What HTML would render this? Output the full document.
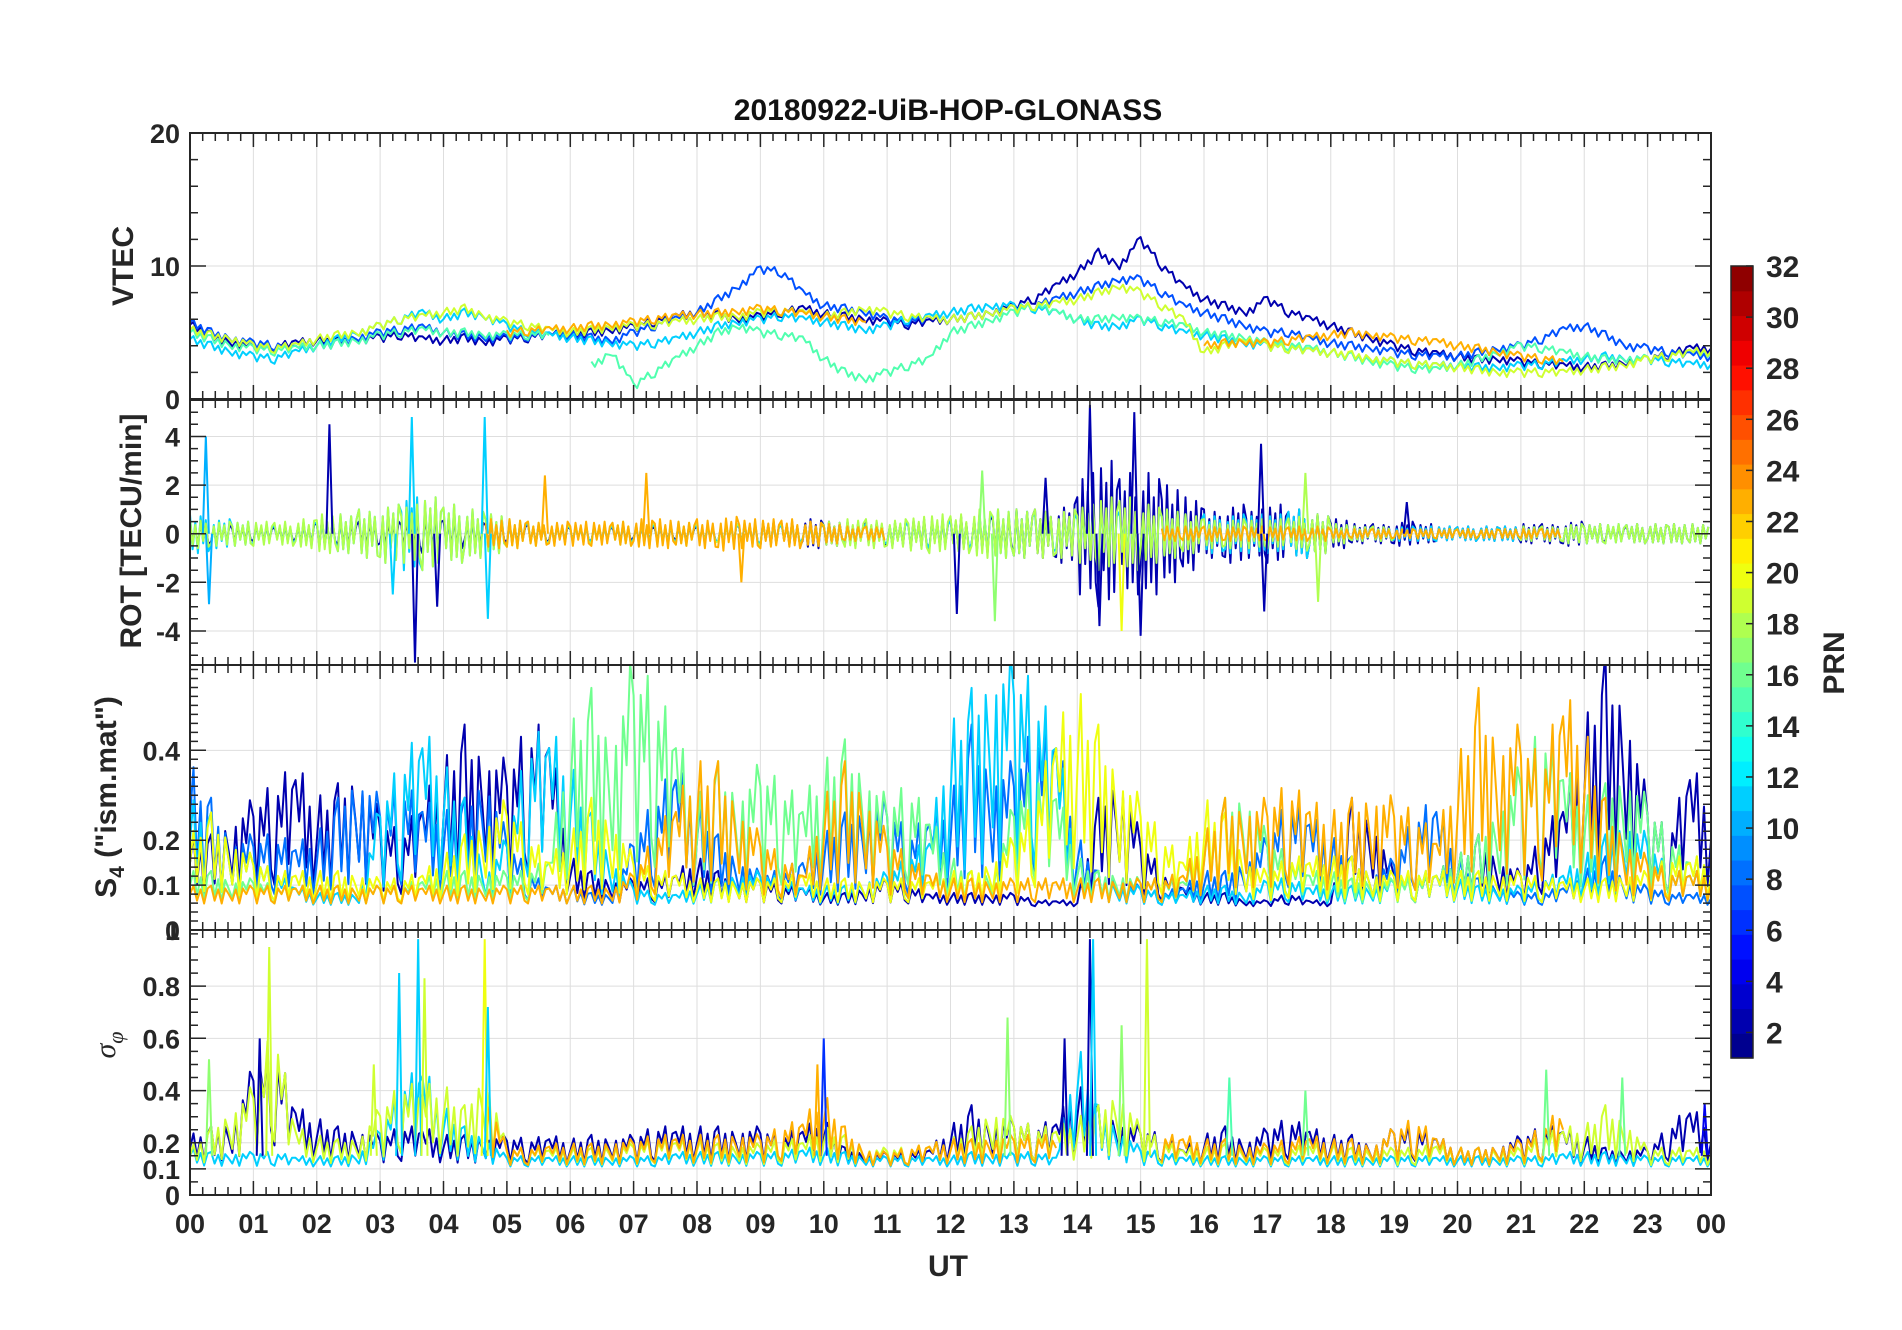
<!DOCTYPE html>
<html><head><meta charset="utf-8"><style>
html,body{margin:0;padding:0;background:#fff;}
svg{display:block;font-family:"Liberation Sans",sans-serif;}
</style></head><body>
<svg id="fig" width="1902" height="1330" viewBox="0 0 1902 1330">
<text x="948" y="120" text-anchor="middle" font-size="30" font-weight="bold" fill="#111">20180922-UiB-HOP-GLONASS</text>
<text x="948" y="1276" text-anchor="middle" font-size="30" font-weight="bold" fill="#262626">UT</text>
<text transform="translate(133,266) rotate(-90)" text-anchor="middle" font-size="30" font-weight="bold" fill="#262626">VTEC</text>
<text transform="translate(141,531) rotate(-90)" text-anchor="middle" font-size="30" font-weight="bold" fill="#262626">ROT [TECU/min]</text>
<text transform="translate(116,797) rotate(-90)" text-anchor="middle" font-size="30" font-weight="bold" fill="#262626">S<tspan font-size="21" dy="8">4</tspan><tspan dy="-8"> ("ism.mat")</tspan></text>
<text transform="translate(115,1045) rotate(-90)" text-anchor="middle" font-size="30" font-style="italic" font-family="Liberation Serif, serif" fill="#262626">σ<tspan font-size="22" dy="8">φ</tspan></text>
<text transform="translate(1844,663) rotate(-90)" text-anchor="middle" font-size="30" font-weight="bold" fill="#262626">PRN</text>
</svg>
<script>
const NS="http://www.w3.org/2000/svg";
const svg=document.getElementById('fig');
// ---- data ----
const hoursLabels=["00","01","02","03","04","05","06","07","08","09","10","11","12","13","14","15","16","17","18","19","20","21","22","23","00"];
const prnTicks=[2,4,6,8,10,12,14,16,18,20,22,24,26,28,30,32];
const vtecTicks=[0,10,20];
const rotTicks=[-4,-2,0,2,4];
const s4Ticks=[0.1,0.2,0.4];
const sigTicks=[0,0.1,0.2,0.4,0.6,0.8];
const vtecDarkBlue=[5.6,4.8,4.2,3.8,3.9,4.2,4.4,4.3,4.5,4.6,4.8,4.5,4.4,4.6,4.3,4.5,4.6,4.8,4.9,5.0,5.2,5.4,5.8,6.2,6.5,6.3,6.0,6.2,6.5,6.8,6.4,6.2,6.0,5.8,5.6,5.8,6.0,6.2,6.5,7.0,7.5,8.5,9.5,11,10,12,10,8.5,7.5,7,6.5,7.5,6.5,6,5.5,5,4.5,4,3.6,3.4,3.2,3,3,2.8,2.6,2.5,2.4,2.5,2.7,3,3.3,3.8,3.8];
const vtecBlue=[5.8,5.0,4.5,4.2,4.0,3.8,4,4.2,4.6,5,5.2,5.4,5,4.8,4.6,4.6,4.7,4.8,4.8,4.6,4.4,5,5.5,6,6.5,7.5,8.5,9.8,9.5,8,7,6.8,6.5,6,5.8,6,6,6.2,6.5,6.8,7,7.5,8,8.5,9,9,8,7,6.5,6,5.5,5,5,4.5,4.2,4,3.8,3.5,3.3,3.2,3.2,3.5,3.8,4,4.5,5.2,5.5,4.8,4,3.8,3.5,3.3,3.2];
const vtecCyan=[4.5,4,3.5,3.2,3,3.5,4,4.5,5,5.5,6,6.5,6,6.5,6.2,5.5,5,4.8,4.6,4.4,4.2,4,4.2,4.5,5,5.5,5.8,6,6.2,6,5.8,5.5,5.2,5.5,6,6.2,6.5,6.8,7,7,6.8,6.5,6,5.5,5.5,6,5.5,5,4.8,4.5,4.2,4,3.8,3.6,3.5,3.2,3,2.8,2.6,2.5,2.5,2.4,2.4,2.5,2.6,2.8,3,3.2,3,3,2.8,2.6,2.6];
const vtecGreen=[5,4.5,4,3.8,3.6,3.8,4,4.2,4.4,4.8,5,5.2,5,5,4.8,4.8,4.8,4.8,null,2.5,3.5,1,2,3,4,5,5.5,5,4.8,4.5,3,2,1.5,2,2.5,3,5,5.5,6,6.5,7,6.5,6,6,6.2,6,5.8,5.5,5,4.8,4.6,4.2,4,3.8,3.5,3.2,2.8,2.5,2.3,2.2,2.5,3,3.5,4,3.8,3.5,3.2,3,3,3,3.2,3.5,3.5];
const vtecYellow=[5.2,4.8,4.5,4,3.8,4,4.5,4.8,5,5.5,6,6.2,6.5,6.8,6.2,5.8,5.5,5.2,5,5.2,5.4,5.5,5.6,5.8,6,6.2,6.2,6.5,6.6,6.5,6.2,6.5,6.8,6.5,6.2,6,6,6.2,6.5,6.8,7,7.2,7.5,8,8.5,8,7,6,3.5,4,4.5,4,3.8,3.6,3.5,3.3,3,2.8,2.6,2.5,2.4,2.2,2,2,2,2,2.2,2.4,2.6,3,3.2,3.5,3.6];
const vtecOrange=[null,null,null,null,null,null,null,null,null,null,null,null,null,null,null,5,5.1,5.2,5.3,5.5,5.6,5.8,6,6.2,6.4,6.5,6.6,6.8,6.6,6.4,6.2,6,5.8,null,null,null,null,null,null,null,null,null,null,null,null,null,null,null,4,4.2,4.3,4.2,4.4,4.6,4.8,5,4.8,4.6,4.4,4.3,4,3.8,3.5,3.2,3,2.8,null,null,null,null,null,null,null];
const rotDarkBlue=[.5,.4,.3,.3,.3,.4,.6,.5,.5,.5,.6,.8,.6,.5,.5,.4,.4,.3,.3,.3,.3,.3,.3,.3,.3,.4,.4,.5,.5,.6,.5,.5,.5,.5,.6,.6,.7,.8,.8,1,1,1.2,2.5,3,2.5,2.5,2,1.5,1,1.2,1,1.2,1,.8,.6,.4,.4,.5,.4,.3,.3,.3,.3,.4,.4,.5,.4,.3,.4,.4,.4,.4];
const rotCyan=[.8,.6,.5,.4,.4,.5,.6,.8,1,1.2,1.5,1.5,1.2,1,.8,.5,.4,.4,.3,.3,.4,.4,.4,.4,.3,.4,.4,.4,.4,.4,.4,.4,.4,.5,.5,.6,.6,.8,1,1,.8,.8,1,1.2,1,1,1,.8,.8,.8,.8,.8,1,.8,.4,.3,.3,.3,.3,.3,.3,.3,.3,.3,.3,.4,.4,.4,.4,.4,.4,.4];
const rotYellow=[.6,.5,.5,.5,.5,.6,.8,.8,1,1.2,1.2,1.5,1.2,1,.8,.6,.5,.4,.4,.4,.5,.5,.5,.5,.4,.4,.5,.5,.5,.5,.5,.6,.6,.6,.7,.8,.8,1,1,1,1,1,1.2,1.5,1.5,1.2,1,.8,.6,.6,.6,.6,.7,.8,.4,.3,.3,.2,.2,.2,.2,.2,.2,.3,.3,.4,.4,.4,.4,.4,.4,.4];
const rotOrange=[0,0,0,0,0,0,0,0,0,0,0,0,0,0,.6,.6,.5,.5,.5,.5,.5,.6,.6,.5,.6,.7,.6,.6,.6,.5,.4,.3,.3,0,0,0,0,0,0,0,0,0,0,0,0,0,.3,.3,.3,.3,.3,.3,.3,.3,.2,.2,.2,.2,.2,.2,.2,.2,.2,.2,.2,0,0,0,0,0,0,0];
const rotSpikeHours=[0.25,0.3,2.2,3.5,3.55,4.65,4.7,3.9,7.2,8.7,12.5,12.7,14.2,14.35,14.9,15,14.7,16.9,16.95,17.6,17.8,19.2,13.5,12.1,3.2,5.6];
const rotSpikeValues=[4,-2.9,4.5,4.8,-5.3,4.8,-3.5,-3,2.5,-2,2.6,-3.6,5.3,-3.8,5,-4.2,-4,3.7,-3.2,2.5,-2.8,1.3,2.3,-3.3,-2.5,2.4];
const rotSpikePrn=[10,10,2,11,2,11,11,2,23,23,17,17,2,2,2,2,20,2,2,18,18,2,2,2,11,23];
const s4DarkBlue=[.15,.15,.18,.2,.22,.25,.2,.22,.25,.18,.15,.2,.25,.3,.28,.25,.3,.3,.12,.1,.09,.09,.09,.1,.12,.1,.09,.09,.08,.08,.07,.07,.08,.09,.08,.07,.07,.07,.07,.07,.06,.06,.06,.2,.25,.15,.1,.08,.07,.07,.06,.06,.07,.06,.06,.2,.18,.1,.09,.1,.12,.15,.12,.1,.15,.2,.3,.4,.35,.2,.15,.25,.2];
const s4Blue=[.25,.2,.15,.15,.15,.14,.15,.2,.25,.2,.22,.2,.18,.2,.25,.15,.1,.08,.08,.07,.07,.15,.2,.25,.2,.15,.12,.1,.1,.12,.15,.18,.2,.2,.15,.18,.2,.3,.25,.25,.3,.3,.15,.1,.09,.08,.07,.08,.1,.1,.12,.15,.2,.18,.15,.12,.1,.12,.18,.2,.12,.09,.08,.07,.07,.08,.1,.12,.09,.08,.07,.07,.07];
const s4Cyan=[.2,.18,.15,.12,.1,.08,.07,.07,.07,.2,.25,.3,.25,.2,.1,.15,.28,.3,.25,.18,.12,.08,.07,.07,.08,.09,.1,.1,.09,.08,.08,.08,.09,.1,.12,.15,.3,.35,.4,.4,.35,.3,.12,.1,.08,.08,.07,.07,.08,.08,.07,.09,.09,.08,.08,.08,.08,.09,.1,.1,.09,.08,.08,.08,.09,.1,.12,.15,.18,.15,.1,.1,.1];
const s4Green=[.1,.1,.09,.09,.08,.08,.08,.08,.08,.08,.08,.09,.1,.1,.1,.1,.1,.12,.3,.35,.3,.4,.35,.3,.2,.25,.22,.25,.22,.2,.25,.28,.25,.2,.22,.18,.12,.1,.1,.2,.25,.22,.12,.1,.1,.09,.09,.09,.15,.2,.22,.15,.12,.1,.1,.09,.09,.09,.09,.1,.12,.15,.2,.25,.3,.25,.2,.22,.25,.2,.15,.12,.12];
const s4Yellow=[.15,.18,.15,.12,.1,.1,.1,.1,.1,.09,.09,.1,.12,.15,.18,.2,.15,.12,.15,.2,.18,.12,.1,.1,.09,.09,.09,.09,.09,.1,.09,.09,.09,.09,.09,.09,.1,.1,.12,.15,.2,.3,.35,.3,.25,.2,.15,.12,.2,.18,.12,.1,.12,.12,.12,.12,.1,.1,.1,.1,.1,.1,.1,.1,.09,.09,.09,.09,.1,.1,.12,.12,.12];
const s4Orange=[.08,.08,.08,.08,.08,.08,.08,.08,.08,.08,.08,.08,.08,.08,.08,.08,.08,.08,.08,.08,.08,.1,.15,.2,.25,.25,.2,.15,.12,.1,.2,.25,.22,.15,.12,.1,.09,.09,.09,.09,.09,.09,.09,.09,.09,.09,.09,.1,.15,.2,.2,.2,.22,.2,.18,.2,.22,.2,.18,.15,.25,.35,.3,.3,.25,.35,.3,.2,.15,.12,.1,.1,.1];
const sigDarkBlue=[.18,.2,.22,.35,.4,.25,.22,.2,.2,.18,.2,.2,.18,.18,.18,.18,.17,.18,.17,.18,.18,.18,.2,.2,.2,.2,.2,.2,.18,.2,.22,.15,.14,.14,.14,.15,.2,.25,.22,.22,.2,.22,.3,.25,.22,.2,.18,.15,.18,.2,.17,.2,.22,.2,.18,.18,.16,.2,.2,.18,.15,.15,.16,.18,.2,.2,.18,.15,.15,.15,.2,.25,.2];
const sigCyan=[.15,.14,.14,.14,.14,.13,.13,.13,.14,.2,.3,.35,.25,.2,.18,.13,.13,.13,.13,.13,.13,.13,.13,.14,.14,.14,.14,.14,.14,.15,.15,.14,.13,.13,.13,.13,.13,.14,.14,.14,.14,.13,.4,.25,.2,.15,.14,.13,.13,.13,.13,.13,.13,.13,.13,.13,.13,.13,.13,.13,.13,.13,.13,.13,.13,.14,.14,.14,.14,.13,.13,.13,.13];
const sigYellow=[.15,.2,.25,.3,.45,.2,.18,.17,.18,.25,.3,.3,.3,.25,.35,.15,.15,.15,.15,.15,.16,.16,.17,.17,.17,.16,.16,.16,.17,.17,.2,.18,.15,.15,.15,.16,.17,.2,.25,.22,.2,.2,.22,.25,.3,.2,.17,.15,.15,.16,.15,.15,.15,.16,.16,.15,.15,.15,.15,.16,.15,.15,.15,.15,.18,.2,.2,.25,.22,.15,.15,.15,.15];
const sigOrange=[null,null,null,null,null,null,null,null,null,null,null,null,null,null,.3,.15,.15,.16,.16,.16,.17,.17,.18,.18,.18,.18,.19,.18,.2,.22,.28,.2,.15,.14,.15,.16,.17,.17,.18,.18,.18,.18,null,null,null,null,.18,.18,.17,.17,.16,.16,.17,.18,.17,.17,.16,.2,.22,.18,.15,.15,.16,.17,.2,.25,null,null,null,null,null,null,null];
const sigSpikeHours=[1.25,1.1,3.3,3.6,3.7,4.65,4.7,10,9.9,12.9,13.8,14.2,14.25,15.1,14.7,16.4,17.6,21.4,22.6,23.9,0.3,2.9];
const sigSpikeValues=[0.95,0.6,0.85,0.98,0.83,0.98,0.72,0.6,0.5,0.68,0.6,0.98,0.98,0.98,0.65,0.45,0.4,0.48,0.45,0.35,0.52,0.5];
const sigSpikePrn=[19,2,11,11,19,20,11,6,23,17,2,2,11,19,17,15,16,16,16,4,17,19];

// ---- layout ----
const X0=190,X1=1711;
const X=h=>X0+h/24*(X1-X0);
const panels=[
 {name:'vtec',top:133,bot:399,min:0,max:20,ticks:vtecTicks,minor:2},
 {name:'rot',top:400,bot:665,min:-5.4,max:5.5,ticks:rotTicks,minor:0.5},
 {name:'s4',top:665,bot:930,min:0,max:0.59,ticks:s4Ticks,minor:0.02},
 {name:'sigma-phi',top:930,bot:1195,min:0,max:1.015,ticks:sigTicks,minor:0.05}];
panels.forEach(p=>{p.Y=v=>p.bot-(v-p.min)/(p.max-p.min)*(p.bot-p.top);});

function jet(t){const r=Math.min(Math.max(Math.min(4*t-1.5,-4*t+4.5),0),1);
 const g=Math.min(Math.max(Math.min(4*t-0.5,-4*t+3.5),0),1);
 const b=Math.min(Math.max(Math.min(4*t+0.5,-4*t+2.5),0),1);
 return `rgb(${Math.round(r*255)},${Math.round(g*255)},${Math.round(b*255)})`;}
const prnColor=p=>jet((p-0.5)/32);
function el(tag,attrs,parent){const e=document.createElementNS(NS,tag);for(const k in attrs)e.setAttribute(k,attrs[k]);(parent||svg).appendChild(e);return e;}

const defs=el('defs',{});
panels.forEach((p,i)=>{const c=el('clipPath',{id:'clip'+i},defs);el('rect',{x:X0,y:p.top,width:X1-X0,height:p.bot-p.top},c);});

panels.forEach((p,i)=>{
 const g=el('g',{});
 
 
 for(let h=1;h<24;h++){const gl=el('line',{x1:X(h),x2:X(h),y1:p.top,y2:p.bot,stroke:'#dedede','stroke-width':1},g);
  }
 p.ticks.forEach(v=>{const y=p.Y(v);if(y>p.top+1&&y<p.bot-1){const gl=el('line',{x1:X0,x2:X1,y1:y,y2:y,stroke:'#dedede','stroke-width':1},g);
  }});
 p.g=el('g',{'clip-path':`url(#clip${i})`},g);
});

const P6=[0,0.9,-0.7,0.5,-1,0.6];
function line(p,vals,prn,amp,name){
 const n=vals.length;let d='';let pen=false;
 for(let i=0;i<n-1;i++){const a=vals[i],b=vals[i+1];
  if(a==null||b==null){pen=false;continue;}
  for(let j=0;j<6;j++){const t=j/6;const v=a+(b-a)*t;const vv=v+P6[(j+i)%6]*amp(v);
   const x=X((i+t)*24/(n-1)),y=p.Y(vv);d+=(pen?'L':'M')+x.toFixed(1)+' '+y.toFixed(1);pen=true;}
  if(i+1===n-1||vals[i+2]==null){d+='L'+X((i+1)*24/(n-1)).toFixed(1)+' '+p.Y(b).toFixed(1);}
 }
 const e=el('path',{d:d,fill:'none',stroke:prnColor(prn),'stroke-width':2,'stroke-linejoin':'round'},p.g);
 
}
const P8=[1,-0.8,0.6,-1,0.9,-0.5,0.7,-0.9];
function rotLine(p,amps,prn,name){
 const n=amps.length;let d='';let pen=false;
 for(let i=0;i<n;i++){const a=amps[i];if(!a){pen=false;continue;}
  for(let j=0;j<8;j++){const h=(i+j/8)*24/n;const y=p.Y(P8[(j+i)%8]*a);d+=(pen?'L':'M')+X(h).toFixed(1)+' '+y.toFixed(1);pen=true;}}
 const e=el('path',{d:d,fill:'none',stroke:prnColor(prn),'stroke-width':2,'stroke-linejoin':'round'},p.g);
 
}
function spikes(p,hours,vals,prns,base,name){
 hours.forEach((h,i)=>{const b=p.Y(base);const x=X(h);
  const e=el('path',{d:`M${x-3} ${b}L${x} ${p.Y(vals[i])}L${x+3} ${b}`,fill:'none',stroke:prnColor(prns[i]),'stroke-width':2},p.g);
  });
}
const cAmp=()=>0.35;
line(panels[0],vtecDarkBlue,2,cAmp,'vtec-prn2');
line(panels[0],vtecBlue,7,cAmp,'vtec-prn7');
line(panels[0],vtecCyan,11,cAmp,'vtec-prn11');
line(panels[0],vtecGreen,15,cAmp,'vtec-prn15');
line(panels[0],vtecYellow,19,cAmp,'vtec-prn19');
line(panels[0],vtecOrange,23,cAmp,'vtec-prn23');
rotLine(panels[1],rotDarkBlue,2,'rot-prn2');
rotLine(panels[1],rotCyan,11,'rot-prn11');
rotLine(panels[1],rotYellow,18,'rot-prn18');
rotLine(panels[1],rotOrange,23,'rot-prn23');
spikes(panels[1],rotSpikeHours,rotSpikeValues,rotSpikePrn,0,'rot-spike');
const s4Amp=v=>Math.max(0,(v-0.05)*0.7);
line(panels[2],s4DarkBlue,2,s4Amp,'s4-prn2');
line(panels[2],s4Blue,8,s4Amp,'s4-prn8');
line(panels[2],s4Cyan,11,s4Amp,'s4-prn11');
line(panels[2],s4Green,16,s4Amp,'s4-prn16');
line(panels[2],s4Yellow,20,s4Amp,'s4-prn20');
line(panels[2],s4Orange,23,s4Amp,'s4-prn23');
const sAmp=v=>Math.max(0.02,(v-0.1)*0.7);
line(panels[3],sigDarkBlue,2,sAmp,'sigma-prn2');
line(panels[3],sigCyan,11,sAmp,'sigma-prn11');
line(panels[3],sigYellow,19,sAmp,'sigma-prn19');
line(panels[3],sigOrange,23,sAmp,'sigma-prn23');
spikes(panels[3],sigSpikeHours,sigSpikeValues,sigSpikePrn,0.15,'sigma-spike');

panels.forEach((p,i)=>{
 const g=el('g',{});
 
 
 el('rect',{x:X0,y:p.top,width:X1-X0,height:p.bot-p.top,fill:'none',stroke:'#262626','stroke-width':2},g);
 let d='';
 for(let k=0;k<=120;k++){const h=k/5;const L=(k%5===0)?14:8;const x=X(h).toFixed(1);
  d+=`M${x} ${p.top}v${L}M${x} ${p.bot}v${-L}`;}
 const steps=Math.round((p.max-p.min)/p.minor)+2;
 const start=Math.ceil(p.min/p.minor-1e-6);
 for(let k=start;k<start+steps;k++){const v=k*p.minor;if(v>p.max+1e-9)break;const y=p.Y(v).toFixed(1);
  const major=p.ticks.some(t=>Math.abs(t-v)<1e-6);const L=major?16:8;
  d+=`M${X0} ${y}h${L}M${X1} ${y}h${-L}`;}
 el('path',{d:d,stroke:'#262626','stroke-width':1.5,fill:'none'},g);
 p.ticks.forEach(v=>{const t=el('text',{x:X0-10,y:p.Y(v)+10,'text-anchor':'end','font-size':27,'font-weight':'bold',fill:'#262626'},g);
  t.textContent=String(v);});
});
{const t=el('text',{x:X0-10,y:panels[2].bot+10,'text-anchor':'end','font-size':27,'font-weight':'bold',fill:'#262626'});
 t.textContent='0';
 const t2=el('text',{x:X0-10,y:panels[3].top+10,'text-anchor':'end','font-size':27,'font-weight':'bold',fill:'#262626'});
 t2.textContent='1';}
hoursLabels.forEach((s,i)=>{const t=el('text',{x:X(i),y:1233,'text-anchor':'middle','font-size':27,'font-weight':'bold',fill:'#262626'});
 t.textContent=s;});

const CB={x:1731,w:22,top:266,bot:1058,min:1,max:32};
const cbY=v=>CB.bot-(v-CB.min)/(CB.max-CB.min)*(CB.bot-CB.top);
const cb=el('g',{});


for(let k=1;k<=32;k++){const y0=CB.bot-(k-1)/32*(CB.bot-CB.top),y1=CB.bot-k/32*(CB.bot-CB.top);
 const r=el('rect',{x:CB.x,y:y1,width:CB.w,height:y0-y1+0.6,fill:prnColor(k)},cb);
 }
el('rect',{x:CB.x,y:CB.top,width:CB.w,height:CB.bot-CB.top,fill:'none',stroke:'#262626','stroke-width':1.5},cb);
prnTicks.forEach(v=>{const y=cbY(v);el('line',{x1:CB.x+CB.w-7,x2:CB.x+CB.w,y1:y,y2:y,stroke:'#262626','stroke-width':1.5},cb);
 const t=el('text',{x:1766,y:y+11,'font-size':30,'font-weight':'bold',fill:'#262626'},cb);
 t.textContent=String(v);});
</script>
</body></html>
